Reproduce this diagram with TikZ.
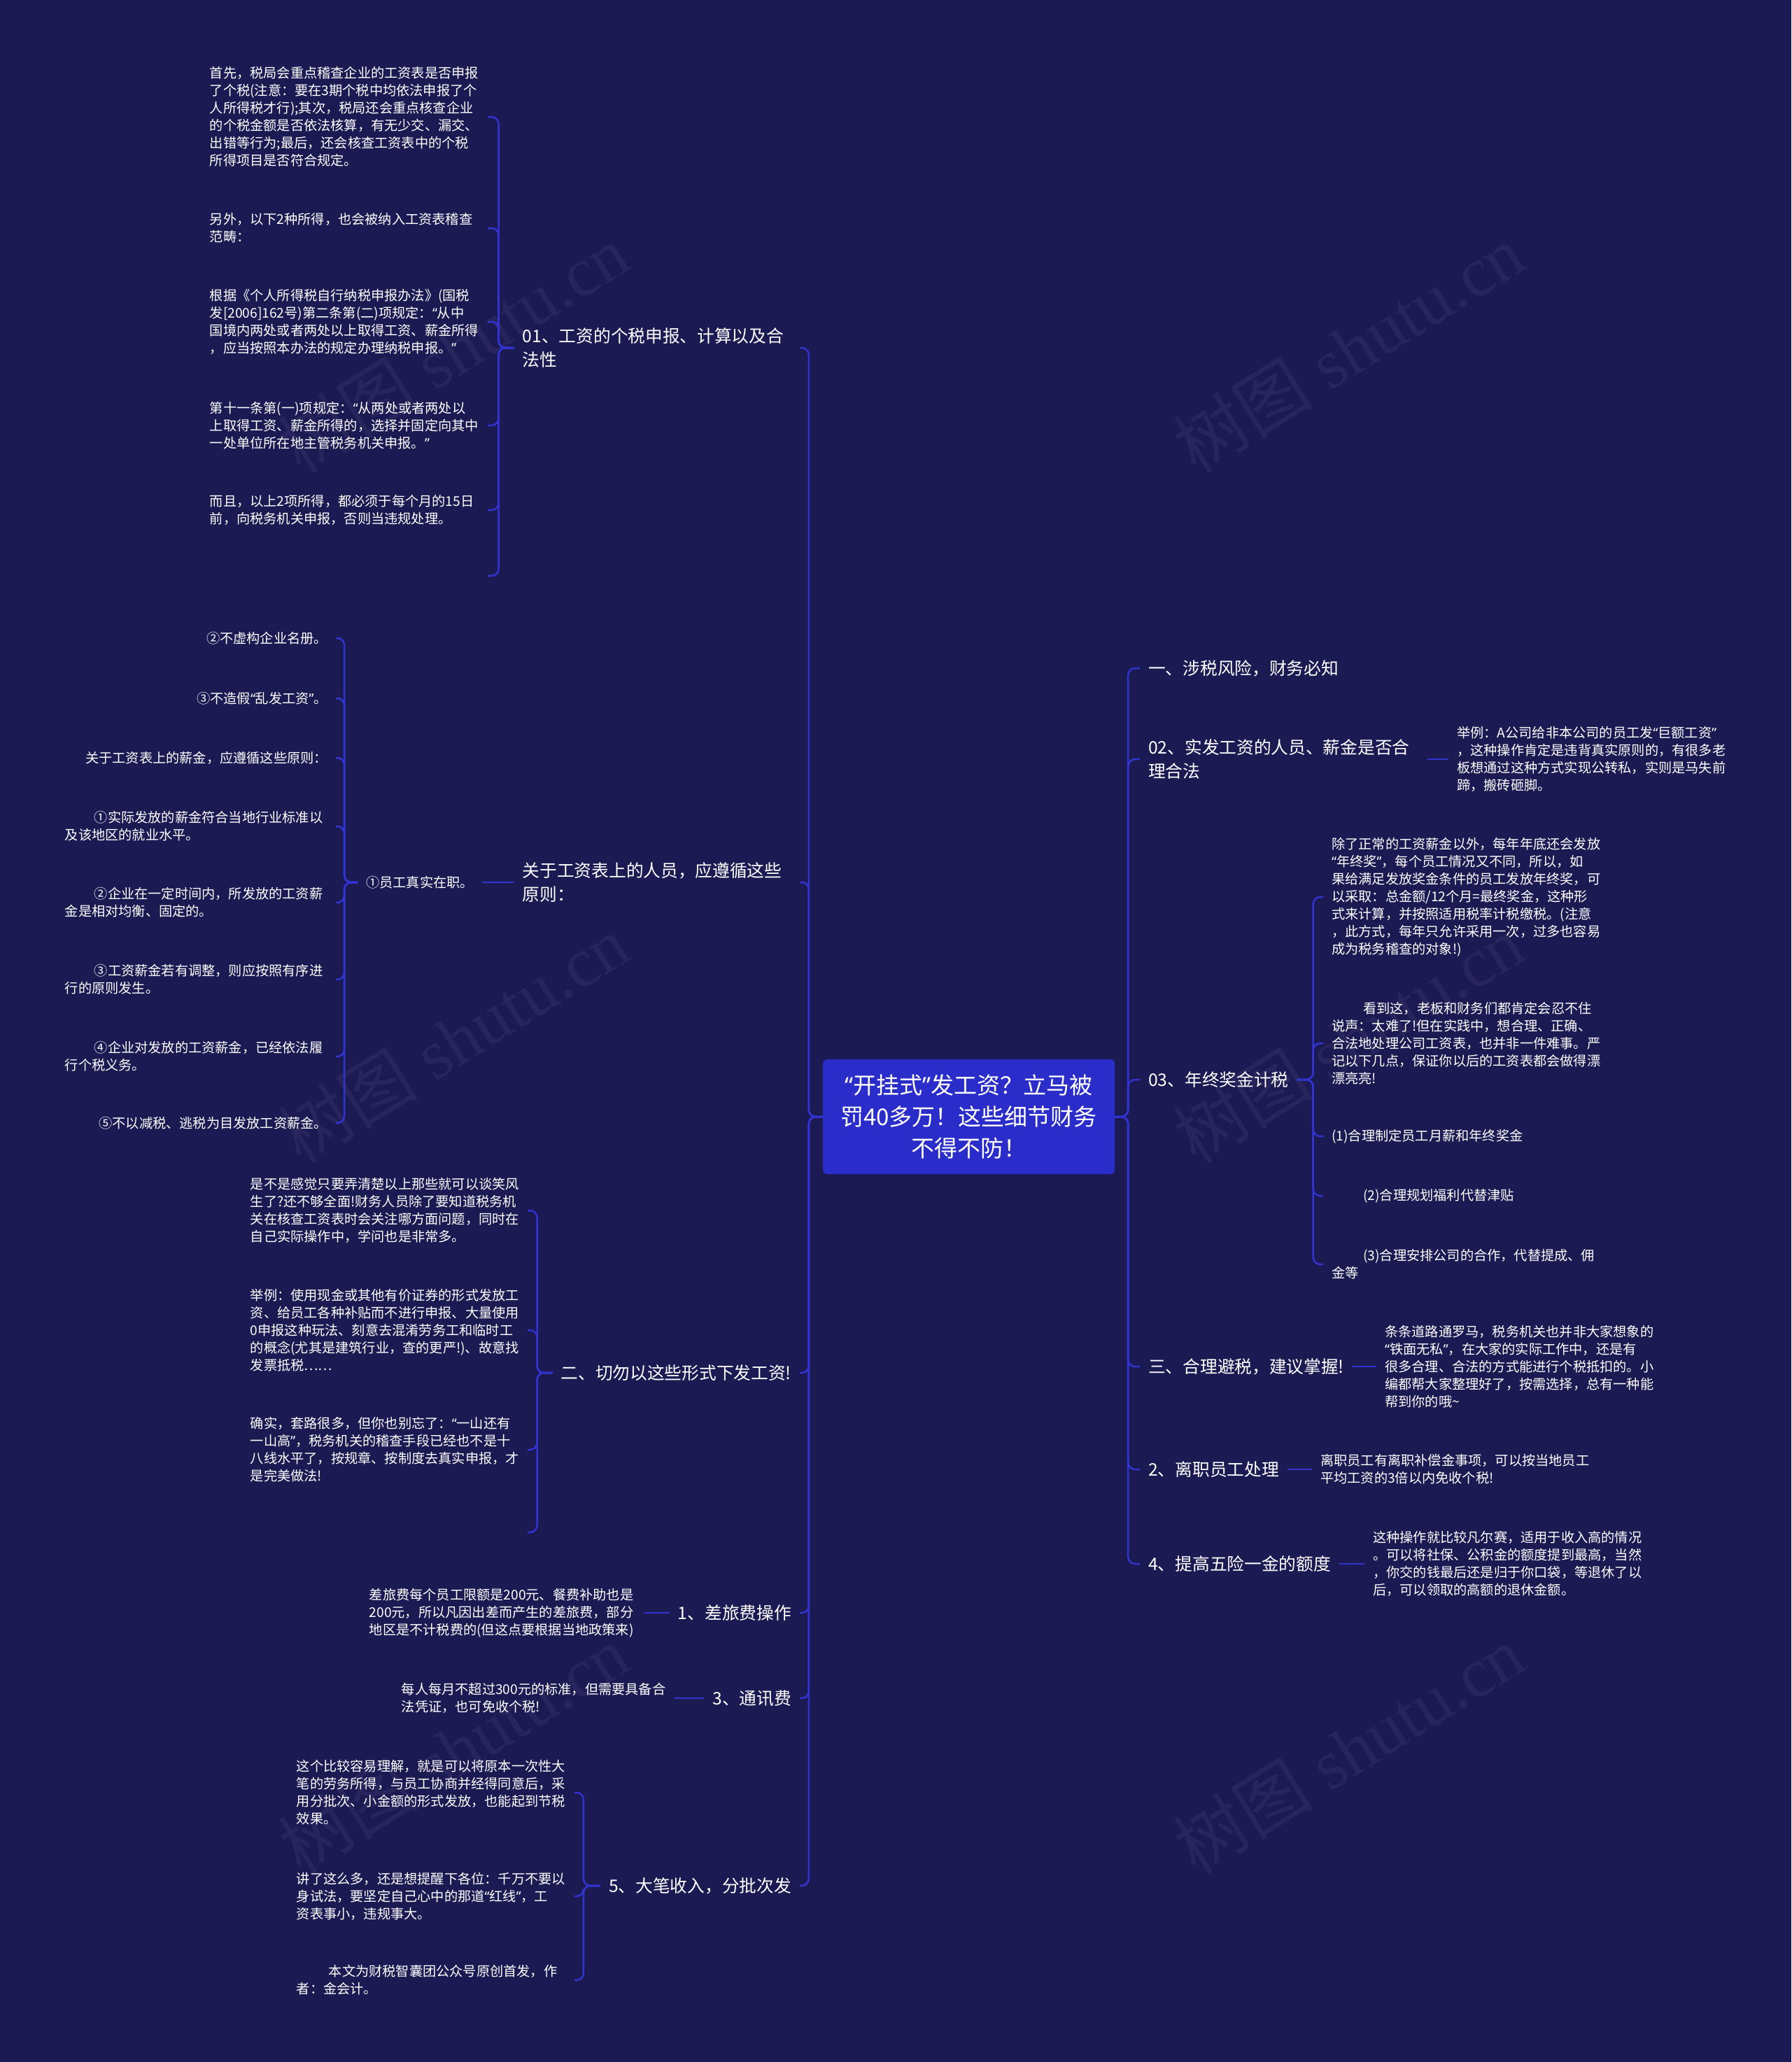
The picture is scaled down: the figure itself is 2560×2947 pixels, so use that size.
\documentclass[tikz,border=0pt]{standalone}
\usepackage{fontspec}
\setmainfont{Liberation Serif}
\newfontfamily\cjk{Noto Sans CJK SC}
\newfontfamily\qfont{Noto Sans}
\newcommand\qo{{\qfont “}}
\newcommand\qc{{\qfont ”}}
\definecolor{bgnavy}{HTML}{1C1A53}
\definecolor{rootblue}{HTML}{2A2DC9}
\definecolor{linkblue}{HTML}{3234D2}
\begin{document}
\begin{tikzpicture}[x=1pt, y=-1pt,
  every node/.style={text=white, inner ysep=0pt, inner xsep=12pt},
  root/.style={fill=rootblue, rounded corners=6pt, minimum width=417pt, minimum height=164pt,
    align=center, font=\cjk\fontsize{33}{45}\selectfont},
  lvone/.style={font=\cjk\fontsize{24.7}{34}\selectfont},
  leaf/.style={font=\cjk\fontsize{19.2}{25}\selectfont},
  conn/.style={draw=linkblue, line width=2.5pt, rounded corners=10pt},
  wmtext/.style={text opacity=0.05, rotate=32, font=\fontsize{100}{100}\selectfont}]
\fill[bgnavy] (0,0) rectangle (2560,2947);
\useasboundingbox (0,0) rectangle (2560,2947);
\foreach \wx/\wy [count=\i] in {648/498, 1927/498, 648/1485, 1927/1485, 648/2500, 1927/2500}
  \node[wmtext] (wm\i) at (\wx,\wy) {{\cjk 树图} shutu.cn};

\node[root] (root) at (1384.5,1596) {\qo 开挂式\qc 发工资？立马被\\罚40多万！这些细节财务\\不得不防！};

\node[lvone, anchor=east, text width=384pt, align=left] (n01) at (1143,497) {01、工资的个税申报、计算以及合\\法性};
\node[lvone, anchor=east, text width=384pt, align=left] (nren) at (1143,1261) {关于工资表上的人员，应遵循这些\\原则：};
\node[lvone, anchor=east] (ner) at (1143,1962) {二、切勿以这些形式下发工资!};
\node[lvone, anchor=east] (nyi) at (1143,2305) {1、差旅费操作};
\node[lvone, anchor=east] (nsan) at (1143,2427) {3、通讯费};
\node[lvone, anchor=east] (nwu) at (1143,2695) {5、大笔收入，分批次发};

\node[lvone, anchor=west] (rone) at (1629,955) {一、涉税风险，财务必知};
\node[lvone, anchor=west, align=left] (r02) at (1629,1085) {02、实发工资的人员、薪金是否合\\理合法};
\node[lvone, anchor=west] (r03) at (1629,1543) {03、年终奖金计税};
\node[lvone, anchor=west] (rthree) at (1629,1953) {三、合理避税，建议掌握!};
\node[lvone, anchor=west] (rtwo) at (1629,2100) {2、离职员工处理};
\node[lvone, anchor=west] (rfour) at (1629,2235) {4、提高五险一金的额度};

\node[leaf, anchor=east, text width=385pt, align=left] (fa) at (697,167) {首先，税局会重点稽查企业的工资表是否申报\\了个税(注意：要在3期个税中均依法申报了个\\人所得税才行);其次，税局还会重点核查企业\\的个税金额是否依法核算，有无少交、漏交、\\出错等行为;最后，还会核查工资表中的个税\\所得项目是否符合规定。};
\node[leaf, anchor=east, text width=385pt, align=left] (fb) at (697,326) {另外，以下2种所得，也会被纳入工资表稽查\\范畴：};
\node[leaf, anchor=east, text width=385pt, align=left] (fc) at (697,460) {根据《个人所得税自行纳税申报办法》(国税\\发[2006]162号)第二条第(二)项规定：\qo 从中\\国境内两处或者两处以上取得工资、薪金所得\\，应当按照本办法的规定办理纳税申报。\qc};
\node[leaf, anchor=east, text width=385pt, align=left] (fd) at (697,608) {第十一条第(一)项规定：\qo 从两处或者两处以\\上取得工资、薪金所得的，选择并固定向其中\\一处单位所在地主管税务机关申报。\qc};
\node[leaf, anchor=east, text width=385pt, align=left] (fe) at (697,729) {而且，以上2项所得，都必须于每个月的15日\\前，向税务机关申报，否则当违规处理。};
\coordinate (ff) at (697,823);

\node[leaf, anchor=east] (nren1) at (689,1261) {①员工真实在职。};
\node[leaf, anchor=east] (ea) at (480,912) {②不虚构企业名册。};
\node[leaf, anchor=east] (eb) at (480,998) {③不造假\qo 乱发工资\qc 。};
\node[leaf, anchor=east] (ec) at (480,1083) {关于工资表上的薪金，应遵循这些原则：};
\node[leaf, anchor=east, text width=375pt, align=left] (ed) at (480,1181) {\hspace*{42pt}①实际发放的薪金符合当地行业标准以\\及该地区的就业水平。};
\node[leaf, anchor=east, text width=375pt, align=left] (ee) at (480,1290) {\hspace*{42pt}②企业在一定时间内，所发放的工资薪\\金是相对均衡、固定的。};
\node[leaf, anchor=east, text width=375pt, align=left] (ef) at (480,1400) {\hspace*{42pt}③工资薪金若有调整，则应按照有序进\\行的原则发生。};
\node[leaf, anchor=east, text width=375pt, align=left] (eg) at (480,1510) {\hspace*{42pt}④企业对发放的工资薪金，已经依法履\\行个税义务。};
\node[leaf, anchor=east] (eh) at (480,1605) {⑤不以减税、逃税为目发放工资薪金。};

\node[leaf, anchor=east, text width=384pt, align=left] (ga) at (754,1730) {是不是感觉只要弄清楚以上那些就可以谈笑风\\生了?还不够全面!财务人员除了要知道税务机\\关在核查工资表时会关注哪方面问题，同时在\\自己实际操作中，学问也是非常多。};
\node[leaf, anchor=east, text width=384pt, align=left] (gb) at (754,1901) {举例：使用现金或其他有价证券的形式发放工\\资、给员工各种补贴而不进行申报、大量使用\\0申报这种玩法、刻意去混淆劳务工和临时工\\的概念(尤其是建筑行业，查的更严!)、故意找\\发票抵税……};
\node[leaf, anchor=east, text width=384pt, align=left] (gc) at (754,2072) {确实，套路很多，但你也别忘了：\qo 一山还有\\一山高\qc ，税务机关的稽查手段已经也不是十\\八线水平了，按规章、按制度去真实申报，才\\是完美做法!};
\coordinate (gd) at (754,2190);

\node[leaf, anchor=east, text width=381pt, align=left] (ha) at (921,2305) {差旅费每个员工限额是200元、餐费补助也是\\200元，所以凡因出差而产生的差旅费，部分\\地区是不计税费的(但这点要根据当地政策来)};
\node[leaf, anchor=east, text width=378pt, align=left] (ia) at (964,2427) {每人每月不超过300元的标准，但需要具备合\\法凭证，也可免收个税!};

\node[leaf, anchor=east, text width=385pt, align=left] (ja) at (821,2562) {这个比较容易理解，就是可以将原本一次性大\\笔的劳务所得，与员工协商并经得同意后，采\\用分批次、小金额的形式发放，也能起到节税\\效果。};
\node[leaf, anchor=east, text width=385pt, align=left] (jb) at (821,2710) {讲了这么多，还是想提醒下各位：千万不要以\\身试法，要坚定自己心中的那道\qo 红线\qc ，工\\资表事小，违规事大。};
\node[leaf, anchor=east, text width=385pt, align=left] (jc) at (821,2830) {\hspace*{46pt}本文为财税智囊团公众号原创首发，作\\者：金会计。};

\node[leaf, anchor=west, align=left] (ra) at (2070,1085) {举例：A公司给非本公司的员工发\qo 巨额工资\qc\\，这种操作肯定是违背真实原则的，有很多老\\板想通过这种方式实现公转私，实则是马失前\\蹄，搬砖砸脚。};
\node[leaf, anchor=west, align=left] (sa) at (1891,1282) {除了正常的工资薪金以外，每年年底还会发放\\\qo 年终奖\qc ，每个员工情况又不同，所以，如\\果给满足发放奖金条件的员工发放年终奖，可\\以采取：总金额/12个月=最终奖金，这种形\\式来计算，并按照适用税率计税缴税。(注意\\，此方式，每年只允许采用一次，过多也容易\\成为税务稽查的对象!)};
\node[leaf, anchor=west, align=left] (sb) at (1891,1491) {\hspace*{45pt}看到这，老板和财务们都肯定会忍不住\\说声：太难了!但在实践中，想合理、正确、\\合法地处理公司工资表，也并非一件难事。严\\记以下几点，保证你以后的工资表都会做得漂\\漂亮亮!};
\node[leaf, anchor=west] (sc) at (1891,1624) {(1)合理制定员工月薪和年终奖金};
\node[leaf, anchor=west] (sd) at (1891,1709) {\hspace*{45pt}(2)合理规划福利代替津贴};
\node[leaf, anchor=west, align=left] (se) at (1891,1807) {\hspace*{45pt}(3)合理安排公司的合作，代替提成、佣\\金等};
\node[leaf, anchor=west, align=left] (ta) at (1967,1953) {条条道路通罗马，税务机关也并非大家想象的\\\qo 铁面无私\qc ，在大家的实际工作中，还是有\\很多合理、合法的方式能进行个税抵扣的。小\\编都帮大家整理好了，按需选择，总有一种能\\帮到你的哦\string~};
\node[leaf, anchor=west, align=left] (ua) at (1875,2100) {离职员工有离职补偿金事项，可以按当地员工\\平均工资的3倍以内免收个税!};
\node[leaf, anchor=west, align=left] (va) at (1950,2235) {这种操作就比较凡尔赛，适用于收入高的情况\\。可以将社保、公积金的额度提到最高，当然\\，你交的钱最后还是归于你口袋，等退休了以\\后，可以领取的高额的退休金额。};

\foreach \c in {n01,nren,ner,nyi,nsan,nwu}
  \draw[conn] (root.west) -- ++(-20,0) |- (\c.east);
\foreach \c in {rone,r02,r03,rthree,rtwo,rfour}
  \draw[conn] (root.east) -- ++(19,0) |- (\c.west);
\foreach \c in {fa,fb,fc,fd,fe}
  \draw[conn] (n01.west) -- ++(-22,0) |- (\c.east);
\draw[conn] (n01.west) -- ++(-22,0) |- (ff);
\draw[conn] (nren.west) -- (nren1.east);
\foreach \c in {ea,eb,ec,ed,ee,ef,eg,eh}
  \draw[conn] (nren1.west) -- ++(-19,0) |- (\c.east);
\foreach \c in {ga,gb,gc}
  \draw[conn] (ner.west) -- ++(-22,0) |- (\c.east);
\draw[conn] (ner.west) -- ++(-22,0) |- (gd);
\draw[conn] (nyi.west) -- (ha.east);
\draw[conn] (nsan.west) -- (ia.east);
\foreach \c in {ja,jb,jc}
  \draw[conn] (nwu.west) -- ++(-24,0) |- (\c.east);
\draw[conn, shorten <=13pt] (r02.east) -- (ra.west);
\foreach \c in {sa,sb,sc,sd,se}
  \draw[conn] (r03.east) -- ++(23,0) |- (\c.west);
\draw[conn] (rthree.east) -- (ta.west);
\draw[conn] (rtwo.east) -- (ua.west);
\draw[conn] (rfour.east) -- (va.west);
\end{tikzpicture}
\end{document}
